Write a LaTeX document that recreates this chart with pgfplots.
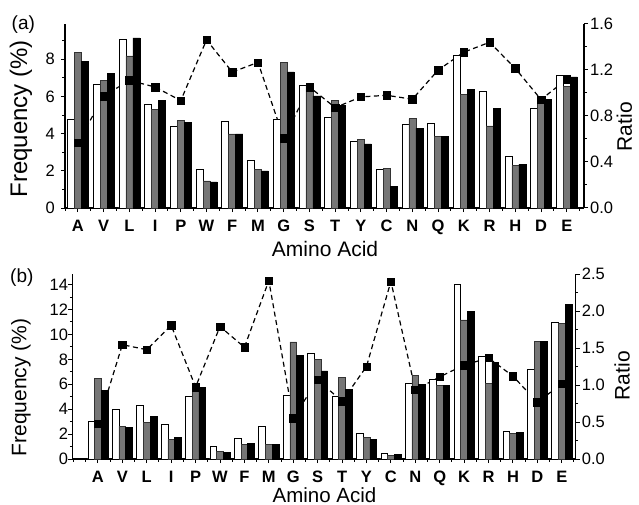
\documentclass[border=0pt]{standalone}
\usepackage{fontspec}
\setmainfont{Liberation Sans}
\usepackage{pgfplots}
\usepackage{pgfplotstable}
\pgfplotsset{compat=1.18}

\pgfplotstableread{
x w g b r
0 4.77 8.38 7.90 0.568
1 6.65 6.87 7.25 0.972
2 9.06 8.18 9.15 1.110
3 5.59 5.29 5.77 1.052
4 4.41 4.71 4.62 0.934
5 2.07 1.46 1.40 1.462
6 4.69 3.99 3.99 1.182
7 2.59 2.09 2.00 1.266
8 4.75 7.84 7.32 0.608
9 6.60 6.60 6.03 1.052
10 4.87 5.77 5.50 0.873
11 3.58 3.70 3.45 0.966
12 2.10 2.14 1.15 0.980
13 4.51 4.80 4.30 0.946
14 4.57 3.85 3.85 1.199
15 8.20 6.10 6.37 1.355
16 6.29 4.42 5.36 1.441
17 2.77 2.28 2.36 1.214
18 5.38 5.97 5.83 0.943
19 7.16 6.55 7.05 1.120
}\dataA

\pgfplotstableread{
x w g b r
0 2.99 6.46 5.50 0.477
1 3.95 2.62 2.56 1.545
2 4.33 2.94 3.42 1.477
3 2.75 1.55 1.76 1.806
4 5.07 5.88 5.74 0.973
5 0.99 0.61 0.53 1.790
6 1.63 1.18 1.28 1.510
7 2.62 1.18 1.18 2.410
8 5.13 9.40 8.33 0.554
9 8.47 8.01 7.08 1.070
10 5.02 6.52 5.61 0.780
11 2.06 1.71 1.55 1.250
12 0.48 0.29 0.35 2.400
13 6.09 6.68 5.98 0.935
14 6.41 5.88 5.88 1.110
15 14.02 11.16 11.86 1.270
16 8.28 6.09 7.75 1.365
17 2.22 2.03 2.11 1.120
18 7.21 9.45 9.45 0.765
19 10.95 10.90 12.42 1.020
}\dataB

\definecolor{midgray}{HTML}{767676}

\pgfplotsset{
  base/.style={
    scale only axis, clip=false,
    tick align=outside,
    major tick length=4pt, minor tick length=2.5pt,
    every tick/.append style={black, line width=1pt},
    axis line style={line width=1.1pt},
    tick label style={font=\fontsize{16.5}{16.5}\selectfont},
    /pgf/number format/assume math mode=true,
  },
  barsaxis/.style={
    base,
    axis x line*=bottom, axis y line*=left,
    xtick={0,...,19},
    xticklabels={A,V,L,I,P,W,F,M,G,S,T,Y,C,N,Q,K,R,H,D,E},
    minor xtick={-0.5,0.5,...,19.5},
    xticklabel style={font=\fontsize{16.5}{16.5}\selectfont\bfseries},
    ybar=0pt,
  },
  ratioaxis/.style={
    base,
    axis x line=none, axis y line*=right,
    /pgf/number format/fixed, /pgf/number format/fixed zerofill, /pgf/number format/precision=1,
  },
  wbar/.style={fill=white, draw=black, line width=0.6pt},
  gbar/.style={fill=midgray, draw=black!80, line width=0.6pt},
  kbar/.style={fill=black, draw=black, line width=0.6pt},
  rline/.style={black, line width=1.2pt, dash pattern=on 5pt off 3.5pt, mark=none},
  rmark/.style={only marks, mark=square*, mark size=3.7pt, black},
}

\begin{document}
\begin{tikzpicture}
\useasboundingbox (0,0) rectangle (639pt,504pt);

% ---------------- Panel (a) ----------------
\begin{axis}[ratioaxis, at={(65pt,296pt)}, anchor=south west,
  width=519pt, height=184pt,
  xmin=-0.5, xmax=19.67, ymin=0, ymax=1.6,
  ytick={0,0.4,0.8,1.2,1.6}, minor ytick={0.2,0.6,1.0,1.4},
  yticklabel style={anchor=west, inner sep=0pt, xshift=2pt},
  ylabel={Ratio},
  ylabel style={at={(axis description cs:1.078,0.442)}, anchor=center, inner sep=0pt, font=\fontsize{21}{21}\selectfont},
]
\addplot[rline] table[x=x, y=r] {\dataA};
\end{axis}

\begin{axis}[barsaxis, at={(65pt,296pt)}, anchor=south west,
  width=519pt, height=184pt,
  xmin=-0.5, xmax=19.67, ymin=0, ymax=9.9,
  ytick={0,2,4,6,8}, minor ytick={1,3,5,7,9},
  bar width=7pt,
  yticklabel style={anchor=east, inner sep=0pt, xshift=-6pt},
  xticklabel style={anchor=north, inner sep=0pt, yshift=-7.5pt},
  xlabel={Amino Acid},
  xlabel style={at={(axis description cs:0.501,0)}, anchor=base, yshift=-48pt, font=\fontsize{21}{21}\selectfont},
  ylabel={Frequency (\%)},
  ylabel style={at={(axis description cs:-0.085,0.484)}, anchor=center, inner sep=0pt, font=\fontsize{24}{24}\selectfont},
]
\addplot[wbar] table[x=x, y=w] {\dataA};
\addplot[gbar] table[x=x, y=g] {\dataA};
\addplot[kbar] table[x=x, y=b] {\dataA};
\end{axis}

\begin{axis}[base, hide axis, at={(65pt,296pt)}, anchor=south west,
  width=519pt, height=184pt,
  xmin=-0.5, xmax=19.67, ymin=0, ymax=1.6]
\addplot[rmark] table[x=x, y=r] {\dataA};
\end{axis}

% ---------------- Panel (b) ----------------
\begin{axis}[ratioaxis, at={(72.3pt,45pt)}, anchor=south west,
  width=503.4pt, height=185pt,
  xmin=-1.05, xmax=19.57, ymin=0, ymax=2.5,
  ytick={0,0.5,1.0,1.5,2.0,2.5}, minor ytick={0.25,0.75,1.25,1.75,2.25},
  yticklabel style={anchor=west, inner sep=0pt, xshift=2pt},
  ylabel={Ratio},
  ylabel style={at={(axis description cs:1.092,0.45)}, anchor=center, inner sep=0pt, font=\fontsize{21}{21}\selectfont},
]
\addplot[rline] table[x=x, y=r] {\dataB};
\end{axis}

\begin{axis}[barsaxis, at={(72.3pt,45pt)}, anchor=south west,
  width=503.4pt, height=185pt,
  xmin=-1.05, xmax=19.57, ymin=0, ymax=14.85,
  ytick={0,2,4,6,8,10,12,14}, minor ytick={1,3,5,7,9,11,13},
  minor xtick={-1,-0.5,0.5,...,19.5},
  bar width=6.7pt,
  yticklabel style={anchor=east, inner sep=0pt, xshift=0pt},
  xticklabel style={anchor=north, inner sep=0pt, yshift=-7.5pt},
  xlabel={Amino Acid},
  xlabel style={at={(axis description cs:0.501,0)}, anchor=base, yshift=-43.5pt, font=\fontsize{20.5}{20.5}\selectfont},
  ylabel={Frequency (\%)},
  ylabel style={at={(axis description cs:-0.102,0.386)}, anchor=center, inner sep=0pt, font=\fontsize{21}{21}\selectfont},
]
\addplot[wbar] table[x=x, y=w] {\dataB};
\addplot[gbar] table[x=x, y=g] {\dataB};
\addplot[kbar] table[x=x, y=b] {\dataB};
\end{axis}

\begin{axis}[base, hide axis, at={(72.3pt,45pt)}, anchor=south west,
  width=503.4pt, height=185pt,
  xmin=-1.05, xmax=19.57, ymin=0, ymax=2.5]
\addplot[rmark] table[x=x, y=r] {\dataB};
\end{axis}

\node[anchor=base west, inner sep=0pt, font=\fontsize{19}{19}\selectfont] at (11.5pt,474.7pt) {(a)};
\node[anchor=base west, inner sep=0pt, font=\fontsize{19}{19}\selectfont] at (10pt,221.3pt) {(b)};
\end{tikzpicture}
\end{document}
